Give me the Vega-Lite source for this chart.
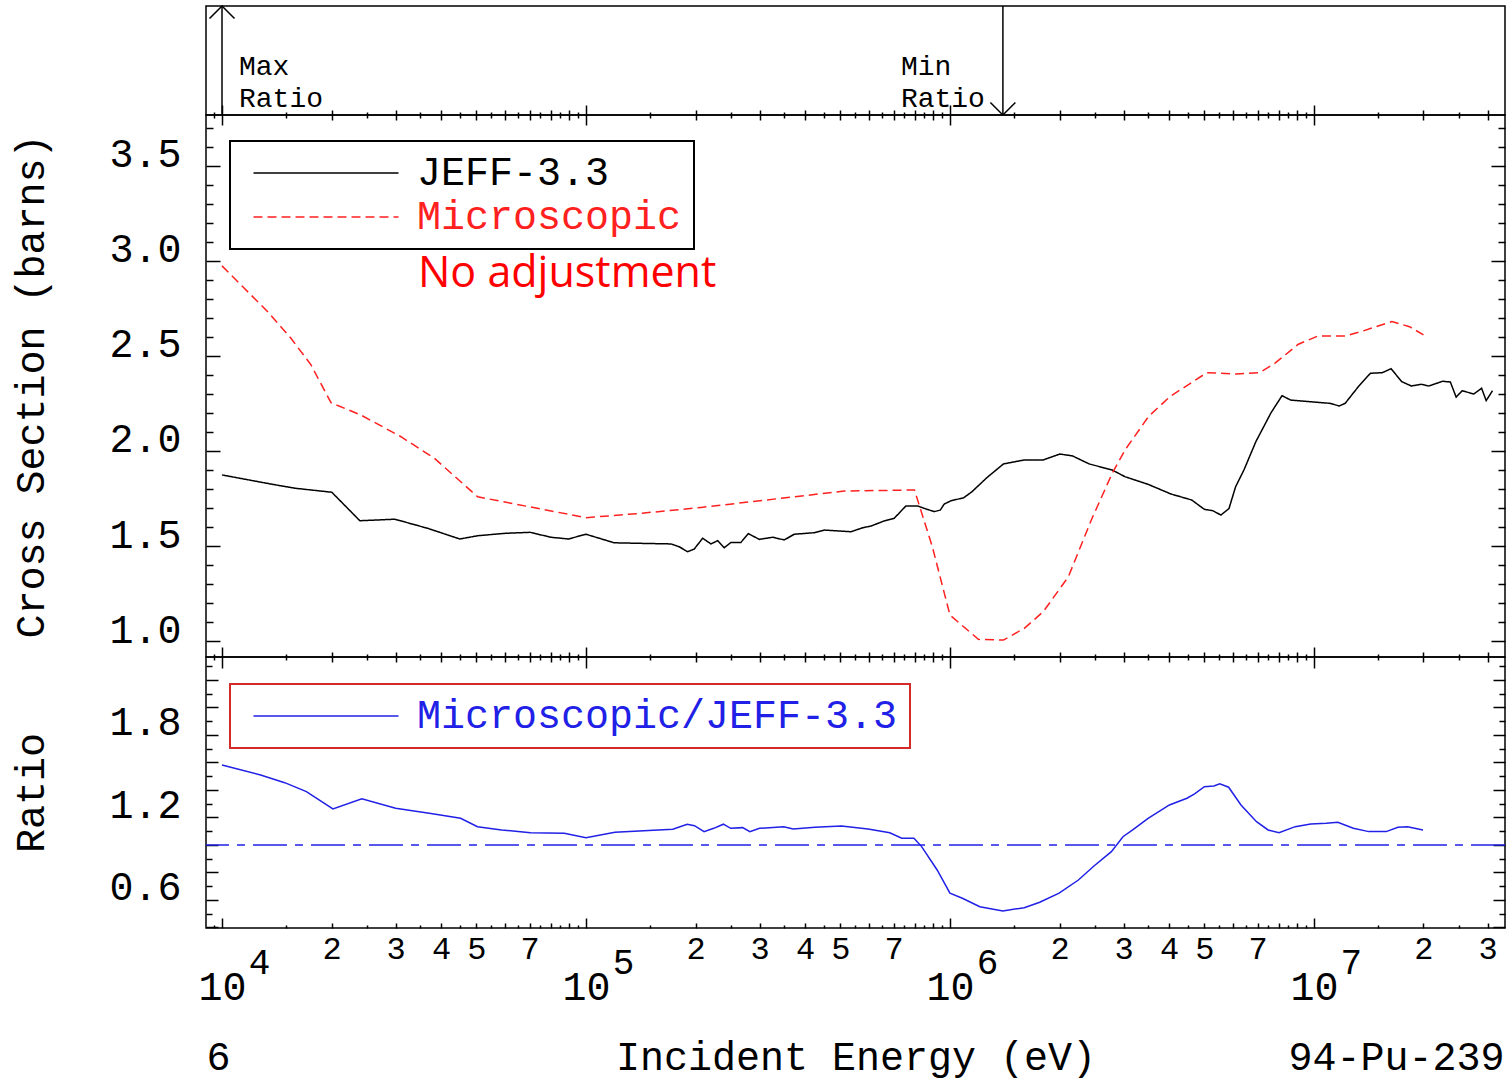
{
  "$schema": "https://vega.github.io/schema/vega-lite/v6.json",
  "background": "white",
  "padding": {"left": 10, "top": 2, "right": 2, "bottom": 2},
  "spacing": 0,
  "bounds": "flush",
  "resolve": {
    "scale": {"color": "independent", "strokeDash": "independent"},
    "legend": {"color": "independent", "strokeDash": "independent"}
  },
  "config": {
    "view": {"stroke": "#000000", "strokeWidth": 1.5},
    "axis": {
      "grid": false, "domain": false, "tickColor": "#000000", "tickWidth": 1.5,
      "labelFont": "Liberation Mono", "titleFont": "Liberation Mono",
      "labelColor": "#000000", "titleColor": "#000000", "titleFontWeight": "normal",
      "labelFontSize": 40, "titleFontSize": 40, "labelFlush": false,
      "labelOverlap": false, "labelBound": false
    },
    "legend": {"labelLimit": 0}
  },
  "datasets": {
    "xs": [
      {"E": 10000, "sigma": 1.874, "series": "JEFF-3.3"},
      {"E": 13723, "sigma": 1.825, "series": "JEFF-3.3"},
      {"E": 15871, "sigma": 1.804, "series": "JEFF-3.3"},
      {"E": 20026, "sigma": 1.783, "series": "JEFF-3.3"},
      {"E": 23923, "sigma": 1.633, "series": "JEFF-3.3"},
      {"E": 29854, "sigma": 1.641, "series": "JEFF-3.3"},
      {"E": 36745, "sigma": 1.593, "series": "JEFF-3.3"},
      {"E": 45010, "sigma": 1.537, "series": "JEFF-3.3"},
      {"E": 50410, "sigma": 1.554, "series": "JEFF-3.3"},
      {"E": 60066, "sigma": 1.567, "series": "JEFF-3.3"},
      {"E": 70197, "sigma": 1.572, "series": "JEFF-3.3"},
      {"E": 80135, "sigma": 1.546, "series": "JEFF-3.3"},
      {"E": 89530, "sigma": 1.537, "series": "JEFF-3.3"},
      {"E": 100000, "sigma": 1.562, "series": "JEFF-3.3"},
      {"E": 119480, "sigma": 1.517, "series": "JEFF-3.3"},
      {"E": 141600, "sigma": 1.514, "series": "JEFF-3.3"},
      {"E": 171200, "sigma": 1.511, "series": "JEFF-3.3"},
      {"E": 180450, "sigma": 1.496, "series": "JEFF-3.3"},
      {"E": 190270, "sigma": 1.47, "series": "JEFF-3.3"},
      {"E": 198380, "sigma": 1.484, "series": "JEFF-3.3"},
      {"E": 209210, "sigma": 1.541, "series": "JEFF-3.3"},
      {"E": 220480, "sigma": 1.511, "series": "JEFF-3.3"},
      {"E": 230030, "sigma": 1.528, "series": "JEFF-3.3"},
      {"E": 239820, "sigma": 1.491, "series": "JEFF-3.3"},
      {"E": 250240, "sigma": 1.519, "series": "JEFF-3.3"},
      {"E": 266560, "sigma": 1.519, "series": "JEFF-3.3"},
      {"E": 279180, "sigma": 1.565, "series": "JEFF-3.3"},
      {"E": 299430, "sigma": 1.535, "series": "JEFF-3.3"},
      {"E": 325740, "sigma": 1.546, "series": "JEFF-3.3"},
      {"E": 350550, "sigma": 1.532, "series": "JEFF-3.3"},
      {"E": 373470, "sigma": 1.562, "series": "JEFF-3.3"},
      {"E": 423860, "sigma": 1.57, "series": "JEFF-3.3"},
      {"E": 451490, "sigma": 1.584, "series": "JEFF-3.3"},
      {"E": 534590, "sigma": 1.575, "series": "JEFF-3.3"},
      {"E": 575740, "sigma": 1.596, "series": "JEFF-3.3"},
      {"E": 606740, "sigma": 1.605, "series": "JEFF-3.3"},
      {"E": 659960, "sigma": 1.632, "series": "JEFF-3.3"},
      {"E": 703030, "sigma": 1.646, "series": "JEFF-3.3"},
      {"E": 757070, "sigma": 1.711, "series": "JEFF-3.3"},
      {"E": 815350, "sigma": 1.711, "series": "JEFF-3.3"},
      {"E": 850050, "sigma": 1.698, "series": "JEFF-3.3"},
      {"E": 905460, "sigma": 1.681, "series": "JEFF-3.3"},
      {"E": 940570, "sigma": 1.689, "series": "JEFF-3.3"},
      {"E": 964700, "sigma": 1.721, "series": "JEFF-3.3"},
      {"E": 1006300, "sigma": 1.738, "series": "JEFF-3.3"},
      {"E": 1091000, "sigma": 1.754, "series": "JEFF-3.3"},
      {"E": 1150000, "sigma": 1.786, "series": "JEFF-3.3"},
      {"E": 1262000, "sigma": 1.859, "series": "JEFF-3.3"},
      {"E": 1403000, "sigma": 1.932, "series": "JEFF-3.3"},
      {"E": 1601000, "sigma": 1.953, "series": "JEFF-3.3"},
      {"E": 1804000, "sigma": 1.953, "series": "JEFF-3.3"},
      {"E": 2005000, "sigma": 1.984, "series": "JEFF-3.3"},
      {"E": 2172000, "sigma": 1.974, "series": "JEFF-3.3"},
      {"E": 2413000, "sigma": 1.932, "series": "JEFF-3.3"},
      {"E": 2792000, "sigma": 1.9, "series": "JEFF-3.3"},
      {"E": 3024000, "sigma": 1.865, "series": "JEFF-3.3"},
      {"E": 3498000, "sigma": 1.825, "series": "JEFF-3.3"},
      {"E": 4045000, "sigma": 1.774, "series": "JEFF-3.3"},
      {"E": 4617000, "sigma": 1.742, "series": "JEFF-3.3"},
      {"E": 5000000, "sigma": 1.693, "series": "JEFF-3.3"},
      {"E": 5269000, "sigma": 1.686, "series": "JEFF-3.3"},
      {"E": 5553000, "sigma": 1.663, "series": "JEFF-3.3"},
      {"E": 5843000, "sigma": 1.697, "series": "JEFF-3.3"},
      {"E": 6094000, "sigma": 1.812, "series": "JEFF-3.3"},
      {"E": 6423000, "sigma": 1.9, "series": "JEFF-3.3"},
      {"E": 6930000, "sigma": 2.05, "series": "JEFF-3.3"},
      {"E": 7628000, "sigma": 2.202, "series": "JEFF-3.3"},
      {"E": 8174000, "sigma": 2.291, "series": "JEFF-3.3"},
      {"E": 8630000, "sigma": 2.268, "series": "JEFF-3.3"},
      {"E": 11043000, "sigma": 2.251, "series": "JEFF-3.3"},
      {"E": 11745000, "sigma": 2.237, "series": "JEFF-3.3"},
      {"E": 12190000, "sigma": 2.251, "series": "JEFF-3.3"},
      {"E": 13290000, "sigma": 2.342, "series": "JEFF-3.3"},
      {"E": 14300000, "sigma": 2.409, "series": "JEFF-3.3"},
      {"E": 15410000, "sigma": 2.412, "series": "JEFF-3.3"},
      {"E": 16300000, "sigma": 2.433, "series": "JEFF-3.3"},
      {"E": 17420000, "sigma": 2.365, "series": "JEFF-3.3"},
      {"E": 18530000, "sigma": 2.342, "series": "JEFF-3.3"},
      {"E": 19700000, "sigma": 2.351, "series": "JEFF-3.3"},
      {"E": 20700000, "sigma": 2.342, "series": "JEFF-3.3"},
      {"E": 22580000, "sigma": 2.367, "series": "JEFF-3.3"},
      {"E": 23710000, "sigma": 2.363, "series": "JEFF-3.3"},
      {"E": 24600000, "sigma": 2.283, "series": "JEFF-3.3"},
      {"E": 25530000, "sigma": 2.317, "series": "JEFF-3.3"},
      {"E": 27500000, "sigma": 2.3, "series": "JEFF-3.3"},
      {"E": 28890000, "sigma": 2.33, "series": "JEFF-3.3"},
      {"E": 29740000, "sigma": 2.265, "series": "JEFF-3.3"},
      {"E": 30950000, "sigma": 2.317, "series": "JEFF-3.3"},
      {"E": 10000, "sigma": 2.974, "series": "Microscopic"},
      {"E": 11516, "sigma": 2.856, "series": "Microscopic"},
      {"E": 13354, "sigma": 2.733, "series": "Microscopic"},
      {"E": 15471, "sigma": 2.593, "series": "Microscopic"},
      {"E": 17560, "sigma": 2.453, "series": "Microscopic"},
      {"E": 19929, "sigma": 2.254, "series": "Microscopic"},
      {"E": 24094, "sigma": 2.189, "series": "Microscopic"},
      {"E": 31026, "sigma": 2.075, "series": "Microscopic"},
      {"E": 38304, "sigma": 1.962, "series": "Microscopic"},
      {"E": 50406, "sigma": 1.759, "series": "Microscopic"},
      {"E": 100000, "sigma": 1.649, "series": "Microscopic"},
      {"E": 141600, "sigma": 1.672, "series": "Microscopic"},
      {"E": 206965, "sigma": 1.703, "series": "Microscopic"},
      {"E": 512400, "sigma": 1.789, "series": "Microscopic"},
      {"E": 798900, "sigma": 1.795, "series": "Microscopic"},
      {"E": 894700, "sigma": 1.496, "series": "Microscopic"},
      {"E": 1000000, "sigma": 1.137, "series": "Microscopic"},
      {"E": 1197000, "sigma": 1.009, "series": "Microscopic"},
      {"E": 1403000, "sigma": 1.005, "series": "Microscopic"},
      {"E": 1601000, "sigma": 1.067, "series": "Microscopic"},
      {"E": 1804000, "sigma": 1.154, "series": "Microscopic"},
      {"E": 2115000, "sigma": 1.338, "series": "Microscopic"},
      {"E": 2446000, "sigma": 1.637, "series": "Microscopic"},
      {"E": 2792000, "sigma": 1.883, "series": "Microscopic"},
      {"E": 3027000, "sigma": 2.005, "series": "Microscopic"},
      {"E": 3511000, "sigma": 2.181, "series": "Microscopic"},
      {"E": 4020000, "sigma": 2.286, "series": "Microscopic"},
      {"E": 5079000, "sigma": 2.412, "series": "Microscopic"},
      {"E": 6109000, "sigma": 2.405, "series": "Microscopic"},
      {"E": 7086000, "sigma": 2.412, "series": "Microscopic"},
      {"E": 7819000, "sigma": 2.462, "series": "Microscopic"},
      {"E": 9066000, "sigma": 2.562, "series": "Microscopic"},
      {"E": 10256000, "sigma": 2.605, "series": "Microscopic"},
      {"E": 12190000, "sigma": 2.605, "series": "Microscopic"},
      {"E": 13450000, "sigma": 2.628, "series": "Microscopic"},
      {"E": 16380000, "sigma": 2.681, "series": "Microscopic"},
      {"E": 18310000, "sigma": 2.654, "series": "Microscopic"},
      {"E": 20000000, "sigma": 2.611, "series": "Microscopic"}
    ],
    "ratio": [
      {"E": 10000, "ratio": 1.582, "series": "Microscopic/JEFF-3.3"},
      {"E": 12766, "ratio": 1.509, "series": "Microscopic/JEFF-3.3"},
      {"E": 14869, "ratio": 1.453, "series": "Microscopic/JEFF-3.3"},
      {"E": 17057, "ratio": 1.388, "series": "Microscopic/JEFF-3.3"},
      {"E": 20170, "ratio": 1.262, "series": "Microscopic/JEFF-3.3"},
      {"E": 24220, "ratio": 1.335, "series": "Microscopic/JEFF-3.3"},
      {"E": 29990, "ratio": 1.267, "series": "Microscopic/JEFF-3.3"},
      {"E": 37110, "ratio": 1.231, "series": "Microscopic/JEFF-3.3"},
      {"E": 45240, "ratio": 1.194, "series": "Microscopic/JEFF-3.3"},
      {"E": 50350, "ratio": 1.133, "series": "Microscopic/JEFF-3.3"},
      {"E": 58640, "ratio": 1.109, "series": "Microscopic/JEFF-3.3"},
      {"E": 70400, "ratio": 1.089, "series": "Microscopic/JEFF-3.3"},
      {"E": 87180, "ratio": 1.085, "series": "Microscopic/JEFF-3.3"},
      {"E": 100000, "ratio": 1.053, "series": "Microscopic/JEFF-3.3"},
      {"E": 120100, "ratio": 1.092, "series": "Microscopic/JEFF-3.3"},
      {"E": 173200, "ratio": 1.114, "series": "Microscopic/JEFF-3.3"},
      {"E": 189700, "ratio": 1.151, "series": "Microscopic/JEFF-3.3"},
      {"E": 198700, "ratio": 1.14, "series": "Microscopic/JEFF-3.3"},
      {"E": 211100, "ratio": 1.097, "series": "Microscopic/JEFF-3.3"},
      {"E": 224400, "ratio": 1.121, "series": "Microscopic/JEFF-3.3"},
      {"E": 238500, "ratio": 1.151, "series": "Microscopic/JEFF-3.3"},
      {"E": 249800, "ratio": 1.121, "series": "Microscopic/JEFF-3.3"},
      {"E": 269500, "ratio": 1.126, "series": "Microscopic/JEFF-3.3"},
      {"E": 282000, "ratio": 1.097, "series": "Microscopic/JEFF-3.3"},
      {"E": 299900, "ratio": 1.121, "series": "Microscopic/JEFF-3.3"},
      {"E": 349300, "ratio": 1.133, "series": "Microscopic/JEFF-3.3"},
      {"E": 371000, "ratio": 1.116, "series": "Microscopic/JEFF-3.3"},
      {"E": 425700, "ratio": 1.129, "series": "Microscopic/JEFF-3.3"},
      {"E": 503400, "ratio": 1.138, "series": "Microscopic/JEFF-3.3"},
      {"E": 595600, "ratio": 1.116, "series": "Microscopic/JEFF-3.3"},
      {"E": 683500, "ratio": 1.089, "series": "Microscopic/JEFF-3.3"},
      {"E": 737400, "ratio": 1.049, "series": "Microscopic/JEFF-3.3"},
      {"E": 796400, "ratio": 1.049, "series": "Microscopic/JEFF-3.3"},
      {"E": 836100, "ratio": 0.988, "series": "Microscopic/JEFF-3.3"},
      {"E": 922300, "ratio": 0.818, "series": "Microscopic/JEFF-3.3"},
      {"E": 1000000, "ratio": 0.649, "series": "Microscopic/JEFF-3.3"},
      {"E": 1082000, "ratio": 0.612, "series": "Microscopic/JEFF-3.3"},
      {"E": 1208000, "ratio": 0.551, "series": "Microscopic/JEFF-3.3"},
      {"E": 1398000, "ratio": 0.52, "series": "Microscopic/JEFF-3.3"},
      {"E": 1600000, "ratio": 0.544, "series": "Microscopic/JEFF-3.3"},
      {"E": 1765000, "ratio": 0.583, "series": "Microscopic/JEFF-3.3"},
      {"E": 1995000, "ratio": 0.649, "series": "Microscopic/JEFF-3.3"},
      {"E": 2254000, "ratio": 0.745, "series": "Microscopic/JEFF-3.3"},
      {"E": 2487000, "ratio": 0.847, "series": "Microscopic/JEFF-3.3"},
      {"E": 2777000, "ratio": 0.951, "series": "Microscopic/JEFF-3.3"},
      {"E": 2988000, "ratio": 1.06, "series": "Microscopic/JEFF-3.3"},
      {"E": 3177000, "ratio": 1.109, "series": "Microscopic/JEFF-3.3"},
      {"E": 3503000, "ratio": 1.194, "series": "Microscopic/JEFF-3.3"},
      {"E": 4009000, "ratio": 1.291, "series": "Microscopic/JEFF-3.3"},
      {"E": 4479000, "ratio": 1.34, "series": "Microscopic/JEFF-3.3"},
      {"E": 4701000, "ratio": 1.371, "series": "Microscopic/JEFF-3.3"},
      {"E": 5000000, "ratio": 1.424, "series": "Microscopic/JEFF-3.3"},
      {"E": 5312000, "ratio": 1.429, "series": "Microscopic/JEFF-3.3"},
      {"E": 5511000, "ratio": 1.444, "series": "Microscopic/JEFF-3.3"},
      {"E": 5831000, "ratio": 1.42, "series": "Microscopic/JEFF-3.3"},
      {"E": 6304000, "ratio": 1.291, "series": "Microscopic/JEFF-3.3"},
      {"E": 6956000, "ratio": 1.169, "series": "Microscopic/JEFF-3.3"},
      {"E": 7484000, "ratio": 1.109, "series": "Microscopic/JEFF-3.3"},
      {"E": 8021000, "ratio": 1.089, "series": "Microscopic/JEFF-3.3"},
      {"E": 8884000, "ratio": 1.133, "series": "Microscopic/JEFF-3.3"},
      {"E": 9800000, "ratio": 1.153, "series": "Microscopic/JEFF-3.3"},
      {"E": 10810000, "ratio": 1.158, "series": "Microscopic/JEFF-3.3"},
      {"E": 11630000, "ratio": 1.165, "series": "Microscopic/JEFF-3.3"},
      {"E": 12830000, "ratio": 1.121, "series": "Microscopic/JEFF-3.3"},
      {"E": 14150000, "ratio": 1.097, "series": "Microscopic/JEFF-3.3"},
      {"E": 15800000, "ratio": 1.097, "series": "Microscopic/JEFF-3.3"},
      {"E": 17020000, "ratio": 1.129, "series": "Microscopic/JEFF-3.3"},
      {"E": 18080000, "ratio": 1.133, "series": "Microscopic/JEFF-3.3"},
      {"E": 19940000, "ratio": 1.109, "series": "Microscopic/JEFF-3.3"}
    ]
  },
  "vconcat": [
    {
      "width": 1299,
      "height": 109,
      "data": {"name": "ratio"},
      "transform": [
        {"joinaggregate": [{"op": "max", "field": "ratio", "as": "rmax"}, {"op": "min", "field": "ratio", "as": "rmin"}]},
        {"filter": "datum.ratio == datum.rmax || datum.ratio == datum.rmin"}
      ],
      "resolve": {"axis": {"x": "independent", "y": "independent"}},
      "layer": [
        {
          "mark": {"type": "rule", "stroke": "#000000", "strokeWidth": 1.5},
          "encoding": {
            "x": {"field": "E", "type": "quantitative", "scale": {"type": "log", "domain": [9037, 33500000], "nice": false},
                  "axis": {"orient": "bottom", "values": [10000, 100000, 1000000, 10000000], "tickSize": -10, "labels": false, "title": null}}
          }
        },
        {
          "transform": [{"filter": "datum.ratio == datum.rmax"}],
          "mark": {"type": "point", "shape": "M-1,1L0,0L1,1", "size": 625, "filled": false, "stroke": "#000000", "strokeWidth": 1.5, "opacity": 1},
          "encoding": {
            "x": {"field": "E", "type": "quantitative",
                  "axis": {"orient": "bottom", "values": [20000,30000,40000,50000,60000,70000,80000,90000,200000,300000,400000,500000,600000,700000,800000,900000,2000000,3000000,4000000,5000000,6000000,7000000,8000000,9000000,20000000,30000000], "tickSize": -5, "labels": false, "title": null}},
            "y": {"datum": 1, "type": "quantitative", "scale": {"domain": [0, 1], "nice": false, "zero": false}, "axis": null}
          }
        },
        {
          "transform": [{"filter": "datum.ratio == datum.rmin"}],
          "mark": {"type": "point", "shape": "M-1,-1L0,0L1,-1", "size": 625, "filled": false, "stroke": "#000000", "strokeWidth": 1.5, "opacity": 1},
          "encoding": {
            "x": {"field": "E", "type": "quantitative",
                  "axis": {"orient": "bottom", "values": [9500,15000,25000,35000,45000,55000,65000,75000,85000,95000,150000,250000,350000,450000,550000,650000,750000,850000,950000,1500000,2500000,3500000,4500000,5500000,6500000,7500000,8500000,9500000,15000000,25000000], "tickSize": -3, "labels": false, "title": null}},
            "y": {"datum": 0, "type": "quantitative", "axis": null}
          }
        },
        {
          "transform": [{"filter": "datum.ratio == datum.rmax"}],
          "mark": {"type": "text", "text": "Max\nRatio", "lineBreak": "\n", "font": "Liberation Mono", "fontSize": 28, "lineHeight": 32, "align": "left", "baseline": "top", "dx": 17, "color": "#000000"},
          "encoding": {
            "x": {"field": "E", "type": "quantitative", "axis": null},
            "y": {"datum": 0.569, "type": "quantitative", "axis": null}
          }
        },
        {
          "transform": [{"filter": "datum.ratio == datum.rmin"}],
          "mark": {"type": "text", "text": "Min\nRatio", "lineBreak": "\n", "font": "Liberation Mono", "fontSize": 28, "lineHeight": 32, "align": "left", "baseline": "top", "dx": -102, "color": "#000000"},
          "encoding": {
            "x": {"field": "E", "type": "quantitative", "axis": null},
            "y": {"datum": 0.569, "type": "quantitative", "axis": null}
          }
        }
      ]
    },
    {
      "width": 1299,
      "height": 542,
      "data": {"name": "xs"},
      "resolve": {"axis": {"x": "independent", "y": "independent"}},
      "layer": [
        {
          "mark": {"type": "line", "strokeWidth": 1.5},
          "encoding": {
            "x": {"field": "E", "type": "quantitative", "scale": {"type": "log", "domain": [9037, 33500000], "nice": false},
                  "axis": {"orient": "bottom", "values": [10000, 100000, 1000000, 10000000], "tickSize": -10, "labels": false, "title": null}},
            "y": {"field": "sigma", "type": "quantitative", "scale": {"domain": [0.916, 3.768], "nice": false, "zero": false},
                  "axis": {"orient": "left", "values": [1, 1.5, 2, 2.5, 3, 3.5], "tickSize": -14, "labelPadding": 39, "labelOffset": -11, "format": ".1f",
                           "title": "Cross Section (barns)", "titleX": -175, "titleBaseline": "middle"}},
            "color": {"field": "series", "type": "nominal",
                      "scale": {"domain": ["JEFF-3.3", "Microscopic"], "range": ["#000000", "#ff2020"]},
                      "legend": {"title": null, "orient": "none", "legendX": 24, "legendY": 26, "symbolType": "M-5,0L5,0", "symbolSize": 841, "symbolStrokeWidth": 1.5, "symbolOffset": 64, "labelOffset": 71, "labelFont": "Liberation Mono", "labelFontSize": 40, "labelLimit": 0, "labelExpr": "datum.label + '\u00a0'", "padding": 12, "rowPadding": 4, "strokeColor": "#000000", "fillColor": "white",
                                 "encode": {"labels": {"update": {"fill": {"signal": "datum.value === 'JEFF-3.3' ? '#000000' : '#ff2020'"}}}, "legend": {"update": {"strokeWidth": {"value": 2}}}}}},
            "strokeDash": {"field": "series", "type": "nominal",
                      "scale": {"domain": ["JEFF-3.3", "Microscopic"], "range": [[1, 0], [9, 5]]},
                      "legend": {"title": null, "orient": "none", "legendX": 24, "legendY": 26, "symbolType": "M-5,0L5,0", "symbolSize": 841, "symbolStrokeWidth": 1.5, "symbolOffset": 64, "labelOffset": 71, "labelFont": "Liberation Mono", "labelFontSize": 40, "labelLimit": 0, "labelExpr": "datum.label + '\u00a0'", "padding": 12, "rowPadding": 4, "strokeColor": "#000000", "fillColor": "white",
                                 "encode": {"labels": {"update": {"fill": {"signal": "datum.value === 'JEFF-3.3' ? '#000000' : '#ff2020'"}}}, "legend": {"update": {"strokeWidth": {"value": 2}}}}}}
          }
        },
        {
          "mark": {"type": "point", "opacity": 0, "size": 1},
          "encoding": {
            "x": {"field": "E", "type": "quantitative",
                  "axis": {"orient": "bottom", "values": [20000,30000,40000,50000,60000,70000,80000,90000,200000,300000,400000,500000,600000,700000,800000,900000,2000000,3000000,4000000,5000000,6000000,7000000,8000000,9000000,20000000,30000000], "tickSize": -5, "labels": false, "title": null}},
            "y": {"field": "sigma", "type": "quantitative",
                  "axis": {"orient": "left", "values": [1.1,1.2,1.3,1.4,1.6,1.7,1.8,1.9,2.1,2.2,2.3,2.4,2.6,2.7,2.8,2.9,3.1,3.2,3.3,3.4,3.6,3.7], "tickSize": -7, "labels": false, "title": null}}
          }
        },
        {
          "mark": {"type": "point", "opacity": 0, "size": 1},
          "encoding": {
            "x": {"field": "E", "type": "quantitative",
                  "axis": {"orient": "bottom", "values": [9500,15000,25000,35000,45000,55000,65000,75000,85000,95000,150000,250000,350000,450000,550000,650000,750000,850000,950000,1500000,2500000,3500000,4500000,5500000,6500000,7500000,8500000,9500000,15000000,25000000], "tickSize": -3, "labels": false, "title": null}},
            "y": {"field": "sigma", "type": "quantitative",
                  "axis": {"orient": "right", "values": [1, 1.5, 2, 2.5, 3, 3.5], "tickSize": -14, "labels": false, "title": null}}
          }
        },
        {
          "mark": {"type": "point", "opacity": 0, "size": 1},
          "encoding": {
            "x": {"field": "E", "type": "quantitative",
                  "axis": {"orient": "top", "values": [10000, 100000, 1000000, 10000000], "tickSize": -10, "labels": false, "title": null}},
            "y": {"field": "sigma", "type": "quantitative",
                  "axis": {"orient": "right", "values": [1.1,1.2,1.3,1.4,1.6,1.7,1.8,1.9,2.1,2.2,2.3,2.4,2.6,2.7,2.8,2.9,3.1,3.2,3.3,3.4,3.6,3.7], "tickSize": -7, "labels": false, "title": null}}
          }
        },
        {
          "mark": {"type": "point", "opacity": 0, "size": 1},
          "encoding": {
            "x": {"field": "E", "type": "quantitative",
                  "axis": {"orient": "top", "values": [20000,30000,40000,50000,60000,70000,80000,90000,200000,300000,400000,500000,600000,700000,800000,900000,2000000,3000000,4000000,5000000,6000000,7000000,8000000,9000000,20000000,30000000], "tickSize": -5, "labels": false, "title": null}},
            "y": {"field": "sigma", "type": "quantitative", "axis": null}
          }
        },
        {
          "mark": {"type": "point", "opacity": 0, "size": 1},
          "encoding": {
            "x": {"field": "E", "type": "quantitative",
                  "axis": {"orient": "top", "values": [9500,15000,25000,35000,45000,55000,65000,75000,85000,95000,150000,250000,350000,450000,550000,650000,750000,850000,950000,1500000,2500000,3500000,4500000,5500000,6500000,7500000,8500000,9500000,15000000,25000000], "tickSize": -3, "labels": false, "title": null}},
            "y": {"field": "sigma", "type": "quantitative", "axis": null}
          }
        },
        {
          "data": {"values": [{}]},
          "mark": {"type": "text", "text": "No adjustment", "font": "Open Sans", "fontSize": 43, "color": "#ff0000", "align": "left", "baseline": "alphabetic"},
          "encoding": {
            "x": {"datum": 34550, "type": "quantitative", "axis": null},
            "y": {"datum": 2.863, "type": "quantitative", "axis": null}
          }
        }
      ]
    },
    {
      "width": 1299,
      "height": 271,
      "data": {"name": "ratio"},
      "resolve": {"axis": {"x": "independent", "y": "independent"}},
      "layer": [
        {
          "data": {"values": [{}]},
          "mark": {"type": "rule", "stroke": "#2020e6", "strokeWidth": 1.5, "strokeDash": [34, 8, 8, 8]},
          "encoding": {
            "y": {"datum": 1, "type": "quantitative", "axis": null}
          }
        },
        {
          "mark": {"type": "line", "strokeWidth": 1.5},
          "encoding": {
            "x": {"field": "E", "type": "quantitative", "scale": {"type": "log", "domain": [9037, 33500000], "nice": false},
                  "axis": {"orient": "bottom", "values": [10000, 100000, 1000000, 10000000], "tickSize": -10, "labelExpr": "'10'", "labelFontSize": 40, "labelPadding": 49,
                           "title": "Incident Energy (eV)", "titleY": 129, "titleBaseline": "middle"}},
            "y": {"field": "ratio", "type": "quantitative", "scale": {"domain": [0.396, 2.367], "nice": false, "zero": false},
                  "axis": {"orient": "left", "values": [0.4, 0.6, 0.8, 1.0, 1.2, 1.4, 1.6, 1.8, 2.0, 2.2], "tickSize": -12, "labelPadding": 37, "labelOffset": -12,
                           "labelExpr": "indexof(['0.6','1.2','1.8'], format(datum.value, '.1f')) >= 0 ? format(datum.value, '.1f') : ''",
                           "title": "Ratio", "titleX": -175, "titleBaseline": "middle"}},
            "color": {"field": "series", "type": "nominal",
                      "scale": {"domain": ["Microscopic/JEFF-3.3"], "range": ["#2020e6"]},
                      "legend": {"title": null, "orient": "none", "legendX": 24, "legendY": 27, "symbolType": "M-5,0L5,0", "symbolSize": 841, "symbolStrokeWidth": 1.5, "symbolOffset": 64, "labelOffset": 71, "labelFont": "Liberation Mono", "labelFontSize": 40, "labelLimit": 0, "labelExpr": "datum.label + '\u00a0'", "labelColor": "#2020e6", "padding": 12, "strokeColor": "#d42a2a", "fillColor": "white",
                                 "encode": {"legend": {"update": {"strokeWidth": {"value": 2}}}}}}
          }
        },
        {
          "mark": {"type": "point", "opacity": 0, "size": 1},
          "encoding": {
            "x": {"field": "E", "type": "quantitative",
                  "axis": {"orient": "bottom", "values": [20000,30000,40000,50000,60000,70000,80000,90000,200000,300000,400000,500000,600000,700000,800000,900000,2000000,3000000,4000000,5000000,6000000,7000000,8000000,9000000,20000000,30000000], "tickSize": -5,
                           "labelExpr": "indexof('23457', slice(format(datum.value, '.0e'), 0, 1)) >= 0 ? slice(format(datum.value, '.0e'), 0, 1) : ''",
                           "labelFontSize": 32, "labelPadding": 10,
                           "title": "94-Pu-239", "titleX": 1298, "titleY": 129, "titleAlign": "right", "titleBaseline": "middle"}},
            "y": {"field": "ratio", "type": "quantitative",
                  "axis": {"orient": "left", "values": [0.5, 0.7, 0.9, 1.1, 1.3, 1.5, 1.7, 1.9, 2.1, 2.3], "tickSize": -6, "labels": false, "title": null}}
          }
        },
        {
          "mark": {"type": "point", "opacity": 0, "size": 1},
          "encoding": {
            "x": {"field": "E", "type": "quantitative",
                  "axis": {"orient": "bottom", "values": [9500,15000,25000,35000,45000,55000,65000,75000,85000,95000,150000,250000,350000,450000,550000,650000,750000,850000,950000,1500000,2500000,3500000,4500000,5500000,6500000,7500000,8500000,9500000,15000000,25000000], "tickSize": -3, "labels": false, "title": null}},
            "y": {"field": "ratio", "type": "quantitative",
                  "axis": {"orient": "right", "values": [0.4, 0.6, 0.8, 1.0, 1.2, 1.4, 1.6, 1.8, 2.0, 2.2], "tickSize": -12, "labels": false, "title": null}}
          }
        },
        {
          "mark": {"type": "point", "opacity": 0, "size": 1},
          "encoding": {
            "x": {"field": "E", "type": "quantitative",
                  "axis": {"orient": "top", "values": [10000, 100000, 1000000, 10000000], "tickSize": -11, "labels": false, "title": null}},
            "y": {"field": "ratio", "type": "quantitative",
                  "axis": {"orient": "right", "values": [0.5, 0.7, 0.9, 1.1, 1.3, 1.5, 1.7, 1.9, 2.1, 2.3], "tickSize": -6, "labels": false, "title": null}}
          }
        },
        {
          "mark": {"type": "point", "opacity": 0, "size": 1},
          "encoding": {
            "x": {"field": "E", "type": "quantitative",
                  "axis": {"orient": "top", "values": [20000,30000,40000,50000,60000,70000,80000,90000,200000,300000,400000,500000,600000,700000,800000,900000,2000000,3000000,4000000,5000000,6000000,7000000,8000000,9000000,20000000,30000000], "tickSize": -5, "labels": false, "title": null}},
            "y": {"field": "ratio", "type": "quantitative", "axis": null}
          }
        },
        {
          "mark": {"type": "point", "opacity": 0, "size": 1},
          "encoding": {
            "x": {"field": "E", "type": "quantitative",
                  "axis": {"orient": "top", "values": [9500,15000,25000,35000,45000,55000,65000,75000,85000,95000,150000,250000,350000,450000,550000,650000,750000,850000,950000,1500000,2500000,3500000,4500000,5500000,6500000,7500000,8500000,9500000,15000000,25000000], "tickSize": -3, "labels": false, "title": null}},
            "y": {"field": "ratio", "type": "quantitative", "axis": null}
          }
        },
        {
          "mark": {"type": "point", "opacity": 0, "size": 1},
          "encoding": {
            "x": {"field": "E", "type": "quantitative",
                  "axis": {"orient": "bottom", "values": [10000, 100000, 1000000, 10000000], "ticks": false, "labelExpr": "'' + round(log(datum.value) / LN10)", "labelFontSize": 36, "labelPadding": 17, "labelOffset": 37,
                           "title": "6", "titleX": 0, "titleY": 129, "titleAlign": "left", "titleBaseline": "middle"}},
            "y": {"field": "ratio", "type": "quantitative", "axis": null}
          }
        }
      ]
    }
  ]
}
